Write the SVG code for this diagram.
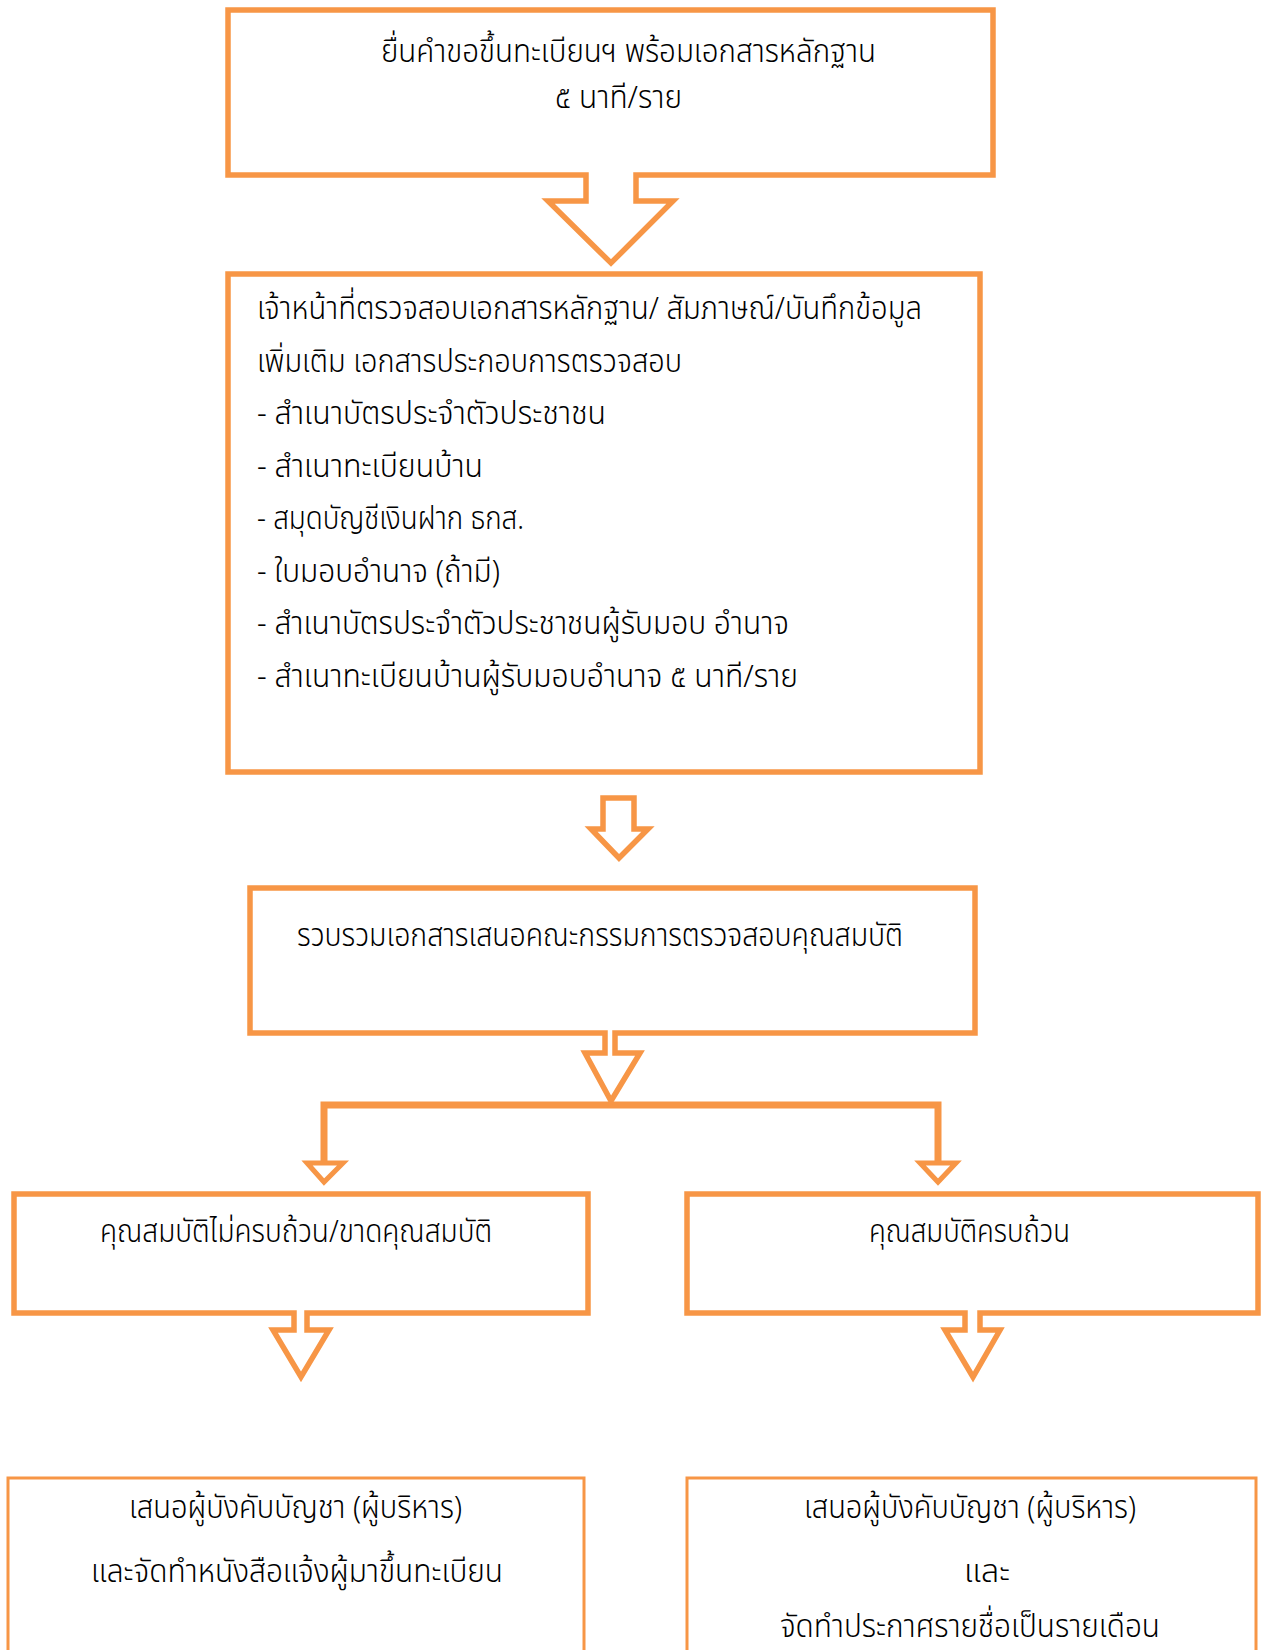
<svg xmlns="http://www.w3.org/2000/svg" width="1268" height="1650" viewBox="0 0 1268 1650">
<style>
.box{fill:#ffffff;stroke:#F79646;stroke-width:5.5;stroke-linejoin:miter}
.thin{fill:#ffffff;stroke:#F79646;stroke-width:3}
.ln{fill:none;stroke:#F79646;stroke-width:7;stroke-linejoin:miter}
.hd{fill:#ffffff;stroke:#F79646;stroke-width:5;stroke-linejoin:miter}
text{font-family:"Noto Sans Thai","Noto Sans","DejaVu Sans",sans-serif;font-size:32px;font-weight:300;fill:#000000}
</style>
<rect width="1268" height="1650" fill="#ffffff"/>
<g id="connectors">
<path class="ln" d="M324,1163 V1105 H938 V1163"/>
<polygon class="hd" points="307,1163 343,1163 324,1182"/>
<polygon class="hd" points="920,1163 956,1163 938,1182"/>
<polygon id="arrow2" class="box" points="603,798 634,798 634,829 648,829 619,858 591,829 603,829"/>
</g>
<g id="node1">
<polygon class="box" points="228,10 993,10 993,175 636,175 636,201 673,201 611,263 548,201 586,201 586,175 228,175"/>
<text x="381" y="62" textLength="495" lengthAdjust="spacingAndGlyphs">ยื่นคำขอขึ้นทะเบียนฯ พร้อมเอกสารหลักฐาน</text>
<text x="555" y="108" textLength="127" lengthAdjust="spacingAndGlyphs">๕ นาที/ราย</text>
</g>
<g id="node2">
<rect class="box" x="228" y="274" width="752" height="498"/>
<text x="257" y="319" textLength="665" lengthAdjust="spacingAndGlyphs">เจ้าหน้าที่ตรวจสอบเอกสารหลักฐาน/ สัมภาษณ์/บันทึกข้อมูล</text>
<text x="257" y="372" textLength="425" lengthAdjust="spacingAndGlyphs">เพิ่มเติม เอกสารประกอบการตรวจสอบ</text>
<text x="257" y="424" textLength="349" lengthAdjust="spacingAndGlyphs">- สำเนาบัตรประจำตัวประชาชน</text>
<text x="257" y="477" textLength="226" lengthAdjust="spacingAndGlyphs">- สำเนาทะเบียนบ้าน</text>
<text x="257" y="529" textLength="267" lengthAdjust="spacingAndGlyphs">- สมุดบัญชีเงินฝาก ธกส.</text>
<text x="257" y="582" textLength="243" lengthAdjust="spacingAndGlyphs">- ใบมอบอำนาจ (ถ้ามี)</text>
<text x="257" y="634" textLength="532" lengthAdjust="spacingAndGlyphs">- สำเนาบัตรประจำตัวประชาชนผู้รับมอบ อำนาจ</text>
<text x="257" y="687" textLength="541" lengthAdjust="spacingAndGlyphs">- สำเนาทะเบียนบ้านผู้รับมอบอำนาจ ๕ นาที/ราย</text>
</g>
<g id="node3">
<polygon class="box" points="250,888 975,888 975,1033 615,1033 615,1053 640,1053 611,1101 585,1053 605,1053 605,1033 250,1033"/>
<text x="297" y="946" textLength="606" lengthAdjust="spacingAndGlyphs">รวบรวมเอกสารเสนอคณะกรรมการตรวจสอบคุณสมบัติ</text>
</g>
<g id="node4">
<polygon class="box" points="14,1194 588,1194 588,1313 307,1313 307,1330 329,1330 301,1377 273,1330 294,1330 294,1313 14,1313"/>
<text x="100" y="1242" textLength="392" lengthAdjust="spacingAndGlyphs">คุณสมบัติไม่ครบถ้วน/ขาดคุณสมบัติ</text>
</g>
<g id="node5">
<polygon class="box" points="687,1194 1258,1194 1258,1313 980,1313 980,1330 1000,1330 973,1377 945,1330 965,1330 965,1313 687,1313"/>
<text x="869" y="1242" textLength="201" lengthAdjust="spacingAndGlyphs">คุณสมบัติครบถ้วน</text>
</g>
<g id="node6">
<rect class="thin" x="8" y="1478" width="576" height="200"/>
<text x="129" y="1518" textLength="333" lengthAdjust="spacingAndGlyphs">เสนอผู้บังคับบัญชา (ผู้บริหาร)</text>
<text x="91" y="1582" textLength="412" lengthAdjust="spacingAndGlyphs">และจัดทำหนังสือแจ้งผู้มาขึ้นทะเบียน</text>
</g>
<g id="node7">
<rect class="thin" x="687" y="1478" width="569" height="200"/>
<text x="804" y="1518" textLength="332" lengthAdjust="spacingAndGlyphs">เสนอผู้บังคับบัญชา (ผู้บริหาร)</text>
<text x="964" y="1582" textLength="46" lengthAdjust="spacingAndGlyphs">และ</text>
<text x="780" y="1637" textLength="380" lengthAdjust="spacingAndGlyphs">จัดทำประกาศรายชื่อเป็นรายเดือน</text>
</g>
</svg>
